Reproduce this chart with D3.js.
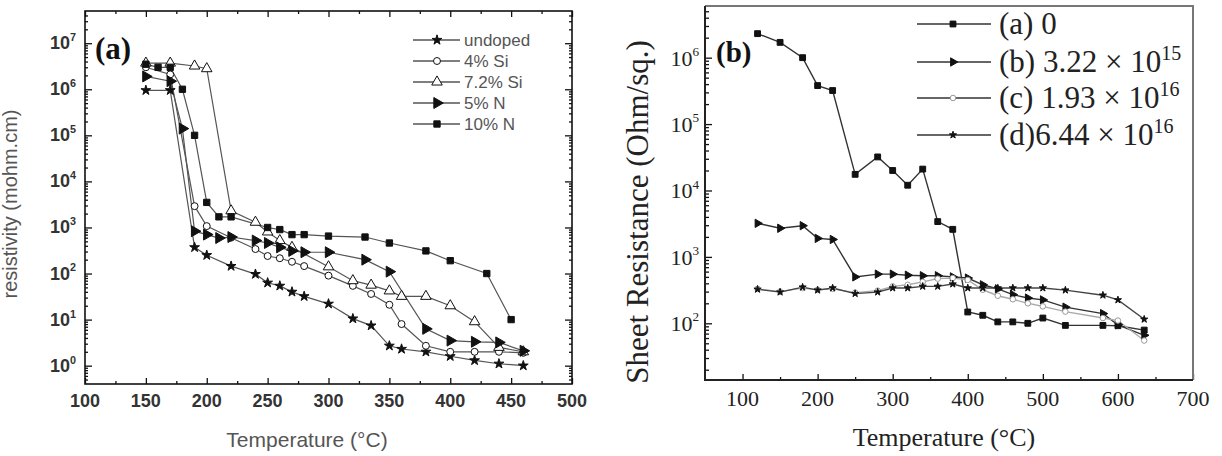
<!DOCTYPE html>
<html>
<head>
<meta charset="utf-8">
<script src="https://cdnjs.cloudflare.com/ajax/libs/d3/7.8.5/d3.min.js"></script>
<style>
body { margin: 0; background: #fff; }
svg { display: block; }
.sans { font-family: "Liberation Sans", Arial, sans-serif; }
.serif { font-family: "Liberation Serif", "Times New Roman", serif; }
</style>
</head>
<body>
<div id="chart"></div>
<script>
// ---- panel (a) data: resistivity (mohm.cm) vs temperature
var tempUndoped = [150,170,190,200,220,240,250,260,270,280,300,320,335,350,360,380,400,420,440,460];
var resUndoped  = [9.5e5,9.5e5,370,250,145,97,63,54,40,32,22,10.5,7.4,2.7,2.3,2.0,1.6,1.3,1.1,1.0];
var tempSi4 = [150,170,190,200,220,240,250,260,270,280,300,320,335,350,360,380,400,420,440,460];
var resSi4  = [3e6,2.1e6,2900,1070,600,340,240,215,180,145,90,54,36,21,8,2.7,2,2,2,1.9];
var tempSi72 = [150,170,190,200,220,240,250,260,270,300,320,335,350,360,380,400,420,440,460];
var resSi72  = [3.7e6,3.7e6,3.2e6,2.8e6,2300,1300,800,520,370,140,70,56,42,32,32,20,9,2.5,2];
var tempN5 = [150,170,180,190,200,210,220,240,250,260,270,280,300,330,350,380,400,420,440,460];
var resN5  = [1.9e6,1.5e6,1.4e5,830,700,590,620,520,460,370,310,290,290,200,110,6.3,3.5,3.3,3.2,2.1];
var tempN10 = [150,160,170,180,190,200,210,220,250,260,270,280,300,330,350,380,400,430,450];
var resN10  = [3.5e6,3e6,3e6,1e6,1e5,3500,1700,1700,1000,900,700,700,650,620,460,310,190,100,10];
var labelsA = ['undoped','4% Si','7.2% Si','5% N','10% N'];
var xTicksA = [100,150,200,250,300,350,400,450,500];
var yTicksA = [1,10,100,1e3,1e4,1e5,1e6,1e7];

// ---- panel (b) data: sheet resistance (Ohm/sq.) vs temperature
var tempB = [120,150,180,200,220,250,280,300,320,340,360,380,400,420,440,460,480,500,530,580,600,635];
var sheetA = [2.3e6,1.7e6,1e6,3.8e5,3.2e5,1.75e4,3.2e4,2e4,1.2e4,2.1e4,3400,2600,148,132,105,105,100,120,93,93,92,79];
var sheetB = [3200,2700,2950,1900,1830,500,550,550,530,520,520,500,480,380,330,270,240,225,175,140,95,66];
var sheetC = [330,300,340,320,330,290,310,360,380,420,470,480,450,320,260,230,200,180,150,120,110,55];
var sheetD = [325,295,350,316,340,280,295,340,340,360,360,390,340,340,340,340,340,340,316,265,225,115];
var labelsB = [['(a) 0',''],['(b) 3.22 \u00d7 10','15'],['(c) 1.93 \u00d7 10','16'],['(d)6.44 \u00d7 10','16']];
var xTicksB = [100,200,300,400,500,600,700];
var yTicksB = [100,1e3,1e4,1e5,1e6];

var svg = d3.select('#chart').append('svg')
	.attr('width', 1222)
	.attr('height', 456);

function logMinor(domain) {
	var out = [];
	for (var k = -2; k < 9; k++) for (var m = 2; m < 10; m++) {
		var v = m * Math.pow(10, k);
		if (v > domain[0] && v < domain[1]) out.push(v);
	}
	return out;
}
function ticks(g, axis, scale, vals, size) {
	g.call(axis(scale).tickValues(vals).tickSize(size).tickFormat(''));
	g.select('.domain').remove();
	g.selectAll('line').attr('stroke', '#111').attr('stroke-width', 1.3);
}
function pow10(g, v, x, y, cls, size, anchor, sup) {
	var t = g.append('text').attr('class', cls).attr('x', x).attr('y', y)
		.attr('text-anchor', anchor).attr('font-size', size);
	t.append('tspan').text('10');
	t.append('tspan').attr('dy', -size * 0.45).attr('font-size', size * sup).text(Math.round(Math.log10(v)));
	return t;
}

// ================= panel (a)
var xa = d3.scaleLinear().domain([100, 500]).range([85, 572]);
var ya = d3.scaleLog().domain([0.4, 5e7]).range([384, 11]);
var ga = svg.append('g');

var xMinorA = d3.range(125, 500, 50);
ticks(ga.append('g').attr('transform', 'translate(0,384)'), d3.axisBottom, xa, xTicksA, -6);
ticks(ga.append('g').attr('transform', 'translate(0,384)'), d3.axisBottom, xa, xMinorA, -3);
ticks(ga.append('g').attr('transform', 'translate(0,11)'), d3.axisTop, xa, xTicksA, -6);
ticks(ga.append('g').attr('transform', 'translate(0,11)'), d3.axisTop, xa, xMinorA, -3);
ticks(ga.append('g').attr('transform', 'translate(85,0)'), d3.axisLeft, ya, yTicksA, -7);
ticks(ga.append('g').attr('transform', 'translate(85,0)'), d3.axisLeft, ya, logMinor(ya.domain()), -3);
ticks(ga.append('g').attr('transform', 'translate(572,0)'), d3.axisRight, ya, yTicksA, -7);
ticks(ga.append('g').attr('transform', 'translate(572,0)'), d3.axisRight, ya, logMinor(ya.domain()), -3);

ga.append('rect').attr('x', 85).attr('y', 11).attr('width', 487).attr('height', 373)
	.attr('fill', 'none').attr('stroke', '#111').attr('stroke-width', 1.6);

ga.selectAll('.xlab').data(xTicksA).enter().append('text')
	.attr('class', 'sans').attr('x', function(d) { return xa(d); }).attr('y', 407)
	.attr('text-anchor', 'middle').attr('font-size', 18).attr('font-weight', 'bold')
	.attr('fill', '#333').text(function(d) { return d; });
yTicksA.forEach(function(v) {
	pow10(ga, v, 76, ya(v) + 6, 'sans', 18, 'end', 0.6).attr('font-weight', 'bold').attr('fill', '#333');
});

ga.append('text').attr('class', 'sans').attr('x', 307).attr('y', 447)
	.attr('text-anchor', 'middle').attr('font-size', 21).attr('fill', '#555')
	.text('Temperature (\u00b0C)');
ga.append('text').attr('class', 'sans')
	.attr('transform', 'translate(17,204) rotate(-90)')
	.attr('text-anchor', 'middle').attr('font-size', 20).attr('fill', '#555')
	.text('resistivity (mohm.cm)');
ga.append('text').attr('class', 'serif').attr('x', 95).attr('y', 59)
	.attr('font-size', 31).attr('font-weight', 'bold').attr('fill', '#111').text('(a)');

var tri = d3.symbolTriangle;
var seriesA = [
	{t: tempUndoped, r: resUndoped, sym: d3.symbolStar, size: 30, fill: '#111', rot: 0},
	{t: tempSi4, r: resSi4, sym: d3.symbolCircle, size: 38, fill: '#fff', rot: 0},
	{t: tempSi72, r: resSi72, sym: tri, size: 48, fill: '#fff', rot: 0},
	{t: tempN5, r: resN5, sym: tri, size: 52, fill: '#111', rot: 90},
	{t: tempN10, r: resN10, sym: d3.symbolSquare, size: 40, fill: '#111', rot: 0}
];
var lineA = d3.line().x(function(d) { return xa(d[0]); }).y(function(d) { return ya(d[1]); });

seriesA.forEach(function(s) {
	var pts = d3.zip(s.t, s.r);
	ga.append('path').datum(pts).attr('d', lineA)
		.attr('fill', 'none').attr('stroke', '#555').attr('stroke-width', 1.2);
});
seriesA.forEach(function(s) {
	var pts = d3.zip(s.t, s.r);
	ga.selectAll(null).data(pts).enter().append('path')
		.attr('d', d3.symbol(s.sym, s.size))
		.attr('transform', function(d) { return 'translate(' + xa(d[0]) + ',' + ya(d[1]) + ') rotate(' + s.rot + ')'; })
		.attr('fill', s.fill).attr('stroke', '#111').attr('stroke-width', 1);
});

// legend (a)
var legA = ga.append('g');
labelsA.forEach(function(lab, i) {
	var yy = 40 + i * 21, s = seriesA[i];
	legA.append('line').attr('x1', 413).attr('x2', 460).attr('y1', yy).attr('y2', yy)
		.attr('stroke', '#555').attr('stroke-width', 1.3);
	legA.append('path').attr('d', d3.symbol(s.sym, s.size))
		.attr('transform', 'translate(437,' + yy + ') rotate(' + s.rot + ')')
		.attr('fill', s.fill).attr('stroke', '#111').attr('stroke-width', 1);
	legA.append('text').attr('class', 'sans').attr('x', 464).attr('y', yy + 6)
		.attr('font-size', 17).attr('fill', '#555').text(lab);
});

// ================= panel (b)
var xb = d3.scaleLinear().domain([50, 700]).range([705, 1193]);
var yb = d3.scaleLog().domain([14, 6e6]).range([380, 6]);
var gb = svg.append('g');

ticks(gb.append('g').attr('transform', 'translate(0,380)'), d3.axisBottom, xb, xTicksB, -6);
ticks(gb.append('g').attr('transform', 'translate(0,380)'), d3.axisBottom, xb, d3.range(150, 700, 100), -3);
ticks(gb.append('g').attr('transform', 'translate(705,0)'), d3.axisLeft, yb, yTicksB, -7);
ticks(gb.append('g').attr('transform', 'translate(705,0)'), d3.axisLeft, yb, logMinor(yb.domain()), -4);

gb.append('path').attr('d', 'M705,6H1193V380')
	.attr('fill', 'none').attr('stroke', '#777').attr('stroke-width', 2);
gb.append('path').attr('d', 'M705,6V380H1193')
	.attr('fill', 'none').attr('stroke', '#222').attr('stroke-width', 2);

gb.selectAll('.xlab').data(xTicksB).enter().append('text')
	.attr('class', 'serif').attr('x', function(d) { return xb(d); }).attr('y', 406)
	.attr('text-anchor', 'middle').attr('font-size', 22)
	.attr('fill', '#222').text(function(d) { return d; });
yTicksB.forEach(function(v) {
	pow10(gb, v, 699, yb(v) + 8, 'serif', 22, 'end', 0.6).attr('fill', '#222');
});

gb.append('text').attr('class', 'serif').attr('x', 944).attr('y', 446)
	.attr('text-anchor', 'middle').attr('font-size', 26).attr('fill', '#222')
	.text('Temperature (\u00b0C)');
gb.append('text').attr('class', 'serif')
	.attr('transform', 'translate(648,212) rotate(-90)')
	.attr('text-anchor', 'middle').attr('font-size', 31).attr('fill', '#222')
	.text('Sheet Resistance (Ohm/sq.)');
gb.append('text').attr('class', 'serif').attr('x', 716).attr('y', 62)
	.attr('font-size', 29).attr('font-weight', 'bold').attr('fill', '#111').text('(b)');

var seriesB = [
	{r: sheetA, sym: d3.symbolSquare, size: 34, fill: '#111', stroke: '#111', line: '#333', rot: 0},
	{r: sheetB, sym: tri, size: 30, fill: '#111', stroke: '#111', line: '#333', rot: 90},
	{r: sheetC, sym: d3.symbolCircle, size: 24, fill: '#fff', stroke: '#999', line: '#aaa', rot: 0},
	{r: sheetD, sym: d3.symbolStar, size: 16, fill: '#111', stroke: '#111', line: '#444', rot: 0}
];
var lineB = d3.line().x(function(d) { return xb(d[0]); }).y(function(d) { return yb(d[1]); });
seriesB.forEach(function(s) {
	gb.append('path').datum(d3.zip(tempB, s.r)).attr('d', lineB)
		.attr('fill', 'none').attr('stroke', s.line).attr('stroke-width', 1.4);
});
seriesB.forEach(function(s) {
	gb.selectAll(null).data(d3.zip(tempB, s.r)).enter().append('path')
		.attr('d', d3.symbol(s.sym, s.size))
		.attr('transform', function(d) { return 'translate(' + xb(d[0]) + ',' + yb(d[1]) + ') rotate(' + s.rot + ')'; })
		.attr('fill', s.fill).attr('stroke', s.stroke).attr('stroke-width', 1);
});

// legend (b)
var rowsB = [24, 62, 98, 135];
labelsB.forEach(function(lab, i) {
	var yy = rowsB[i], s = seriesB[i];
	gb.append('line').attr('x1', 917).attr('x2', 991).attr('y1', yy).attr('y2', yy)
		.attr('stroke', '#333').attr('stroke-width', 1.5);
	gb.append('path').attr('d', d3.symbol(s.sym, s.size))
		.attr('transform', 'translate(953,' + yy + ') rotate(' + s.rot + ')')
		.attr('fill', s.fill).attr('stroke', s.stroke).attr('stroke-width', 1);
	var t = gb.append('text').attr('class', 'serif').attr('x', 999).attr('y', yy + 10)
		.attr('font-size', 31).attr('fill', '#222');
	t.append('tspan').text(lab[0]);
	if (lab[1]) t.append('tspan').attr('dy', -12).attr('font-size', 20).text(lab[1]);
});
</script>
</body>
</html>
